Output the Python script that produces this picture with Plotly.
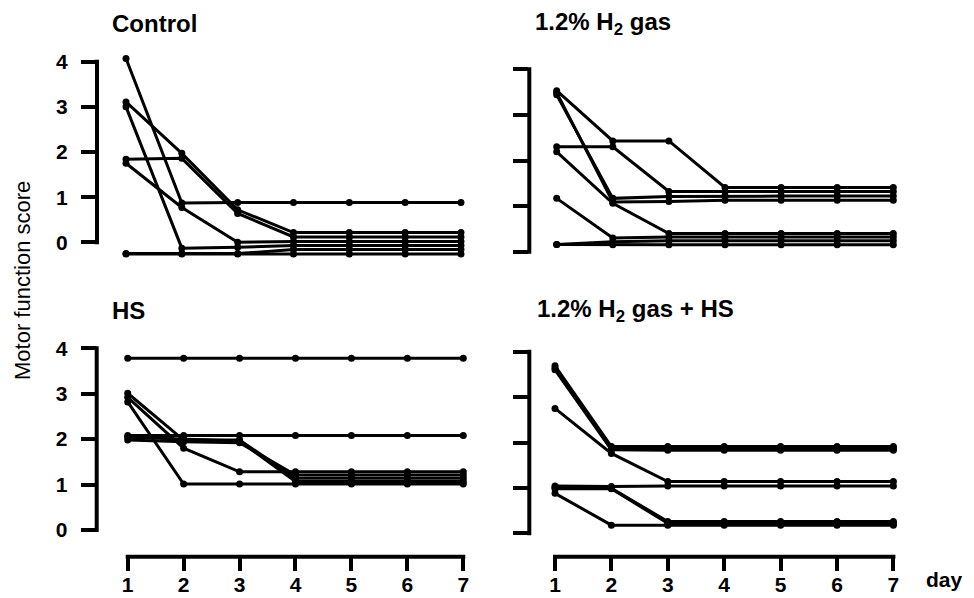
import plotly.graph_objects as go

W, H = 974, 598

days = [1, 2, 3, 4, 5, 6, 7]
day_labels = ["1", "2", "3", "4", "5", "6", "7"]
y_ticks = [0, 1, 2, 3, 4]
y_tick_labels = ["0", "1", "2", "3", "4"]

panel_titles = ["Control", "1.2% H<sub>2</sub> gas", "HS", "1.2% H<sub>2</sub> gas + HS"]
y_title = "Motor function score"
x_title = "day"

# Control
control_1 = [4.07, 0.87, 0.88, 0.88, 0.88, 0.88, 0.88]
control_2 = [3.11, 1.97, 0.72, 0.215, 0.215, 0.215, 0.215]
control_3 = [1.84, 1.86, 0.64, 0.12, 0.12, 0.12, 0.12]
control_4 = [3.00, -0.13, -0.11, -0.07, -0.07, -0.07, -0.07]
control_5 = [1.75, 0.77, 0.00, 0.02, 0.02, 0.02, 0.02]
control_6 = [-0.25, -0.25, -0.25, -0.16, -0.16, -0.16, -0.16]
control_7 = [-0.26, -0.26, -0.26, -0.26, -0.26, -0.26, -0.26]

# 1.2% H2 gas
h2gas_1 = [3.53, 2.43, 2.43, 1.41, 1.41, 1.41, 1.41]
h2gas_2 = [2.30, 2.30, 1.32, 1.32, 1.32, 1.32, 1.32]
h2gas_3 = [3.44, 1.17, 1.21, 1.22, 1.22, 1.22, 1.22]
h2gas_4 = [3.49, 1.09, 1.10, 1.13, 1.13, 1.13, 1.13]
h2gas_5 = [2.19, 1.06, 0.40, 0.40, 0.40, 0.40, 0.40]
h2gas_6 = [1.17, 0.30, 0.32, 0.32, 0.32, 0.32, 0.32]
h2gas_7 = [0.16, 0.22, 0.24, 0.24, 0.24, 0.24, 0.24]
h2gas_8 = [0.16, 0.15, 0.15, 0.15, 0.15, 0.15, 0.15]

# HS
hs_1 = [3.78, 3.78, 3.78, 3.78, 3.78, 3.78, 3.78]
hs_2 = [2.08, 2.08, 2.08, 2.08, 2.08, 2.08, 2.08]
hs_3 = [2.82, 1.01, 1.01, 1.01, 1.01, 1.01, 1.01]
hs_4 = [3.01, 1.98, 1.98, 1.14, 1.14, 1.14, 1.14]
hs_5 = [2.92, 1.80, 1.28, 1.28, 1.28, 1.28, 1.28]
hs_6 = [1.98, 1.94, 1.92, 1.21, 1.21, 1.21, 1.21]
hs_7 = [2.04, 2.00, 1.96, 1.07, 1.07, 1.07, 1.07]

# 1.2% H2 gas + HS
h2hs_1 = [3.69, 1.91, 1.91, 1.91, 1.91, 1.91, 1.91]
h2hs_2 = [3.64, 1.87, 1.87, 1.87, 1.87, 1.87, 1.87]
h2hs_3 = [3.60, 1.84, 1.83, 1.83, 1.83, 1.83, 1.83]
h2hs_4 = [2.75, 1.76, 1.14, 1.14, 1.14, 1.14, 1.14]
h2hs_5 = [1.04, 1.03, 1.04, 1.04, 1.04, 1.04, 1.04]
h2hs_6 = [0.98, 0.98, 0.22, 0.22, 0.22, 0.22, 0.22]
h2hs_7 = [0.88, 0.18, 0.18, 0.18, 0.18, 0.18, 0.18]
h2hs_8 = [1.01, 0.99, 0.26, 0.26, 0.26, 0.26, 0.26]

panels = [
    [control_1, control_2, control_3, control_4, control_5, control_6, control_7],
    [h2gas_1, h2gas_2, h2gas_3, h2gas_4, h2gas_5, h2gas_6, h2gas_7, h2gas_8],
    [hs_1, hs_2, hs_3, hs_4, hs_5, hs_6, hs_7],
    [h2hs_1, h2hs_2, h2hs_3, h2hs_4, h2hs_5, h2hs_6, h2hs_7, h2hs_8],
]

# pixel calibration of each panel (layout only)
calib = [
    dict(axis_x=97.0, day1=126.0, step=55.83, zero=242.3, unit=45.15, top=48, bottom=262, right=480),
    dict(axis_x=529.3, day1=556.7, step=56.1, zero=251.7, unit=45.6, top=48, bottom=262, right=920),
    dict(axis_x=96.7, day1=127.7, step=55.93, zero=530.0, unit=45.43, top=335, bottom=556.7, right=480),
    dict(axis_x=529.3, day1=555.0, step=56.4, zero=533.3, unit=45.4, top=335, bottom=556.7, right=920),
]
title_pos = [(110, 24), (533, 24), (110, 310), (535, 310)]

FONT = "Liberation Sans, Arial, sans-serif"
fig = go.Figure()
layout = dict(
    width=W, height=H, margin=dict(l=0, r=0, t=0, b=0),
    paper_bgcolor="white", plot_bgcolor="white", showlegend=False,
    template="none", font=dict(family=FONT, color="black"),
)
shapes = []
annotations = []

for i, (series, c) in enumerate(zip(panels, calib)):
    n = i + 1
    xs = "x" if n == 1 else f"x{n}"
    ys = "y" if n == 1 else f"y{n}"
    xk = "xaxis" if n == 1 else f"xaxis{n}"
    yk = "yaxis" if n == 1 else f"yaxis{n}"
    for vals in series:
        fig.add_trace(go.Scatter(
            x=days, y=vals, xaxis=xs, yaxis=ys, mode="lines+markers",
            line=dict(color="black", width=3),
            marker=dict(color="black", size=7),
            cliponaxis=False, hoverinfo="skip",
        ))
    xr = [1 + (c["axis_x"] - c["day1"]) / c["step"], 1 + (c["right"] - c["day1"]) / c["step"]]
    yr = [(c["zero"] - c["bottom"]) / c["unit"], (c["zero"] - c["top"]) / c["unit"]]
    bottom_row = n >= 3
    xaxis = dict(
        domain=[c["axis_x"] / W, c["right"] / W], range=xr, anchor=ys,
        showgrid=False, zeroline=False, showline=False, automargin=False,
    )
    if bottom_row:
        xaxis.update(
            tickvals=days, ticktext=day_labels,
            ticks="outside", ticklen=13, tickwidth=4, tickcolor="black",
            showticklabels=True, ticklabelstandoff=-4,
            tickfont=dict(family=FONT, size=21, color="black", weight="bold"),
        )
    else:
        xaxis.update(visible=False)
    layout[xk] = xaxis
    yaxis = dict(
        domain=[1 - c["bottom"] / H, 1 - c["top"] / H], range=yr, anchor=xs,
        showgrid=False, zeroline=False, showline=False, automargin=False,
        tickvals=y_ticks, ticks="outside",
        ticklen=15, tickwidth=4, tickcolor="black",
    )
    if n in (1, 3):
        yaxis.update(ticktext=y_tick_labels, showticklabels=True, ticklabelstandoff=9,
                     tickfont=dict(family=FONT, size=21, color="black", weight="bold"))
    else:
        yaxis.update(showticklabels=False)
    layout[yk] = yaxis
    # y axis bracket line (0 to 4)
    shapes.append(dict(type="line", xref=f"{xs} domain", yref=ys, x0=0, x1=0,
                       y0=y_ticks[0] - 2 / c["unit"], y1=y_ticks[-1] + 2 / c["unit"],
                       line=dict(color="black", width=4)))
    if bottom_row:
        shapes.append(dict(type="line", xref=xs, yref=f"{ys} domain",
                           x0=days[0] - 2 / c["step"], x1=days[-1] + 2 / c["step"], y0=0, y1=0,
                           line=dict(color="black", width=4)))
    tx, ty = title_pos[i]
    annotations.append(dict(text=panel_titles[i], xref="paper", yref="paper",
                            x=tx / W, y=1 - ty / H, xanchor="left", yanchor="middle",
                            showarrow=False,
                            font=dict(family=FONT, size=24, color="black", weight="bold")))

annotations.append(dict(text=y_title, xref="paper", yref="paper", x=22 / W, y=1 - 281 / H,
                        xanchor="center", yanchor="middle", textangle=-90, showarrow=False,
                        font=dict(family=FONT, size=22, color="black")))
annotations.append(dict(text=x_title, xref="paper", yref="paper", x=944 / W, y=1 - 579 / H,
                        xanchor="center", yanchor="middle", showarrow=False,
                        font=dict(family=FONT, size=21, color="black", weight="bold")))

layout["shapes"] = shapes
layout["annotations"] = annotations
fig.update_layout(**layout)
fig.write_html("out.html", config={"displayModeBar": False},
               post_script="document.body.style.margin='0';document.body.style.overflow='hidden';")
